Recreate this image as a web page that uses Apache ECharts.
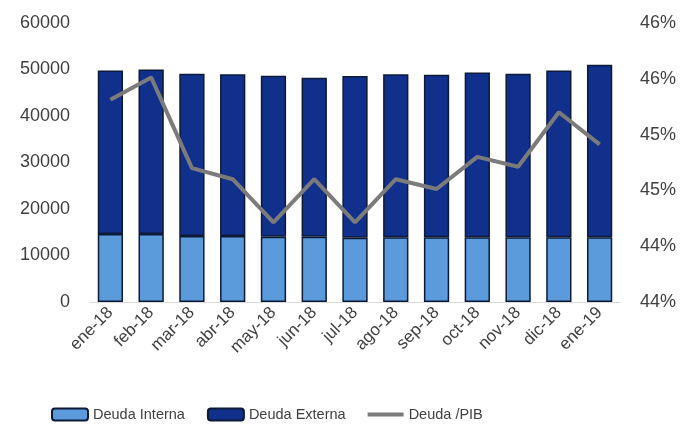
<!DOCTYPE html>
<html>
<head>
<meta charset="utf-8">
<script src="https://cdn.jsdelivr.net/npm/echarts@6/dist/echarts.min.js"></script>
<style>html,body{margin:0;padding:0;background:#fff;}#c{width:693px;height:431px;}</style>
</head>
<body>
<div id="c"></div>
<script>
const categories = ['ene-18','feb-18','mar-18','abr-18','may-18','jun-18','jul-18','ago-18','sep-18','oct-18','nov-18','dic-18','ene-19'];
const deudaInterna = [14600, 14600, 14200, 14200, 14050, 14050, 13800, 13900, 13900, 13900, 13900, 13900, 13900];
const deudaTotal = [49800, 50000, 49100, 49000, 48650, 48250, 48600, 49000, 48850, 49350, 49100, 49800, 51000];
const deudaExterna = deudaTotal.map((t, i) => t - deudaInterna[i]);
const deudaPIB = [45.45, 45.61, 44.96, 44.88, 44.57, 44.88, 44.57, 44.88, 44.81, 45.04, 44.97, 45.36, 45.13];
const leftTicks = { min: 0, max: 60000, interval: 10000 };
const rightTicks = { min: 44, max: 46, interval: 0.4 };

const font = 'Liberation Sans';
const txt = '#404040';
const chart = echarts.init(document.getElementById('c'), null, { renderer: 'canvas' });
chart.setOption({
  animation: false,
  backgroundColor: '#ffffff',
  textStyle: { fontFamily: font },
  grid: { left: 90, right: 73, top: 23, bottom: 129 },
  legend: {
    bottom: 4, left: 46,
    itemWidth: 36, itemHeight: 12, itemGap: 22,
    symbolKeepAspect: true,
    textStyle: { fontFamily: font, fontSize: 14.5, color: txt },
    data: [
      { name: 'Deuda Interna' },
      { name: 'Deuda Externa' },
      { name: 'Deuda /PIB', icon: 'path://M0,0 L40,0 L40,4.5 L0,4.5 Z', itemStyle: { color: '#7b7b7b', borderWidth: 0 } }
    ]
  },
  xAxis: {
    type: 'category', data: categories,
    axisTick: { show: false },
    axisLine: { lineStyle: { color: '#d9d9d9', width: 1 } },
    axisLabel: { rotate: 45, fontSize: 17, color: txt, fontFamily: font, margin: 8, interval: 0 }
  },
  yAxis: [
    {
      type: 'value', min: leftTicks.min, max: leftTicks.max, interval: leftTicks.interval,
      splitLine: { show: false }, axisLine: { show: false }, axisTick: { show: false },
      axisLabel: { fontSize: 18, color: txt, fontFamily: font, margin: 20, formatter: v => String(v) }
    },
    {
      type: 'value', min: rightTicks.min, max: rightTicks.max, interval: rightTicks.interval,
      splitLine: { show: false }, axisLine: { show: false }, axisTick: { show: false },
      axisLabel: { fontSize: 18, color: txt, fontFamily: font, margin: 20,
        formatter: v => Math.round(v) + '%' }
    }
  ],
  series: [
    {
      name: 'Deuda Interna', type: 'bar', stack: 'd', data: deudaInterna,
      barCategoryGap: '38%',
      itemStyle: { color: '#5b9bdb', borderColor: '#0c1a38', borderWidth: 1.5 }
    },
    {
      name: 'Deuda Externa', type: 'bar', stack: 'd', data: deudaExterna,
      itemStyle: { color: '#11308c', borderColor: '#0c1a38', borderWidth: 1.5 }
    },
    {
      name: 'Deuda /PIB', type: 'line', yAxisIndex: 1, data: deudaPIB,
      symbol: 'none', lineStyle: { color: '#7b7b7b', width: 4 }, itemStyle: { color: '#7b7b7b' }
    }
  ]
});
</script>
</body>
</html>
